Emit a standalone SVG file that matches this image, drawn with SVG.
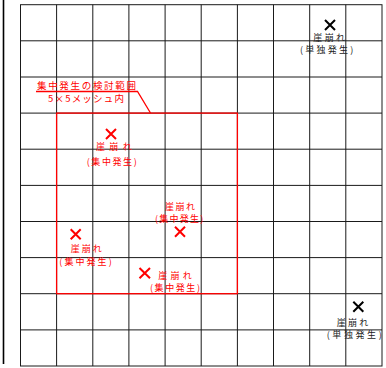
<svg xmlns="http://www.w3.org/2000/svg" width="386" height="368" viewBox="0 0 386 368">
<style>
.g{stroke:#1a1a1a;stroke-width:1;fill:none}
.r{stroke:#ff0000;stroke-width:1.3;fill:none}
.xr{stroke:#ff0000;stroke-width:2;fill:none}
.xk{stroke:#000;stroke-width:2;fill:none}
text{font-family:"Noto Sans CJK JP","Noto Sans CJK SC",sans-serif;font-size:9px}
.tr{fill:#ff0000}
.tk{fill:#222}
.h{font-size:9.5px}
</style>
<rect width="386" height="368" fill="#fff"/>
<line x1="3.5" y1="0" x2="3.5" y2="364" stroke="#000" stroke-width="1.6"/>
<g id="grid">
<rect class="g" x="20.5" y="4.7" width="361.5" height="361.3"/>
<path class="g" d="M56.6 4.7V366M92.8 4.7V366M128.9 4.7V366M165.1 4.7V366M201.2 4.7V366M237.4 4.7V366M273.5 4.7V366M309.7 4.7V366M345.8 4.7V366"/>
<path class="g" d="M20.5 40.8H382M20.5 77H382M20.5 113.1H382M20.5 149.2H382M20.5 185.4H382M20.5 221.5H382M20.5 257.6H382M20.5 293.7H382M20.5 329.9H382"/>
</g>
<g id="range">
<rect class="r" x="56.6" y="113.1" width="180.8" height="180.6"/>
</g>
<g id="connectors">
<path class="r" d="M36 91.5H137.5L150.5 113"/>
</g>
<g id="range-label">
<text class="tr h" x="37" y="89.2" textLength="99" lengthAdjust="spacing">集中発生の検討範囲</text>
<text class="tr h" x="48" y="101.7" textLength="76" lengthAdjust="spacing">5×5メッシュ内</text>
</g>
<g id="markA">
<path class="xr" d="M106 129L116 139M116 129L106 139"/>
<text class="tr" x="96" y="150.3" textLength="35.7" lengthAdjust="spacing">崖崩れ</text>
<text class="tr" x="86.7" y="164.5" textLength="50" lengthAdjust="spacing">(集中発生)</text>
</g>
<g id="markB">
<path class="xr" d="M175 226.7L185 236.7M185 226.7L175 236.7"/>
<text class="tr" x="165" y="210.3" textLength="30" lengthAdjust="spacing">崖崩れ</text>
<text class="tr" x="155" y="222" textLength="48.3" lengthAdjust="spacing">(集中発生)</text>
</g>
<g id="markC">
<path class="xr" d="M70.7 229.3L80.7 239.3M80.7 229.3L70.7 239.3"/>
<text class="tr" x="70.7" y="252.3" textLength="31" lengthAdjust="spacing">崖崩れ</text>
<text class="tr" x="59.3" y="264.6" textLength="52.4" lengthAdjust="spacing">(集中発生)</text>
</g>
<g id="markD">
<path class="xr" d="M139.5 268L150 278.3M150 268L139.5 278.3"/>
<text class="tr" x="158.3" y="278.6" textLength="33.4" lengthAdjust="spacing">崖崩れ</text>
<text class="tr" x="150" y="291.3" textLength="50" lengthAdjust="spacing">(集中発生)</text>
</g>
<g id="markE">
<path class="xk" d="M325 20L335 30M335 20L325 30"/>
<text class="tk" x="313.3" y="41" textLength="31.7" lengthAdjust="spacing">崖崩れ</text>
<text class="tk" x="300" y="53.2" textLength="53.3" lengthAdjust="spacing">(単独発生)</text>
</g>
<g id="markF">
<path class="xk" d="M353.3 301.7L363.3 311.7M363.3 301.7L353.3 311.7"/>
<text class="tk" x="336.7" y="326" textLength="31.6" lengthAdjust="spacing">崖崩れ</text>
<text class="tk" x="326.7" y="338.2" textLength="55" lengthAdjust="spacing">(単独発生)</text>
</g>
</svg>
